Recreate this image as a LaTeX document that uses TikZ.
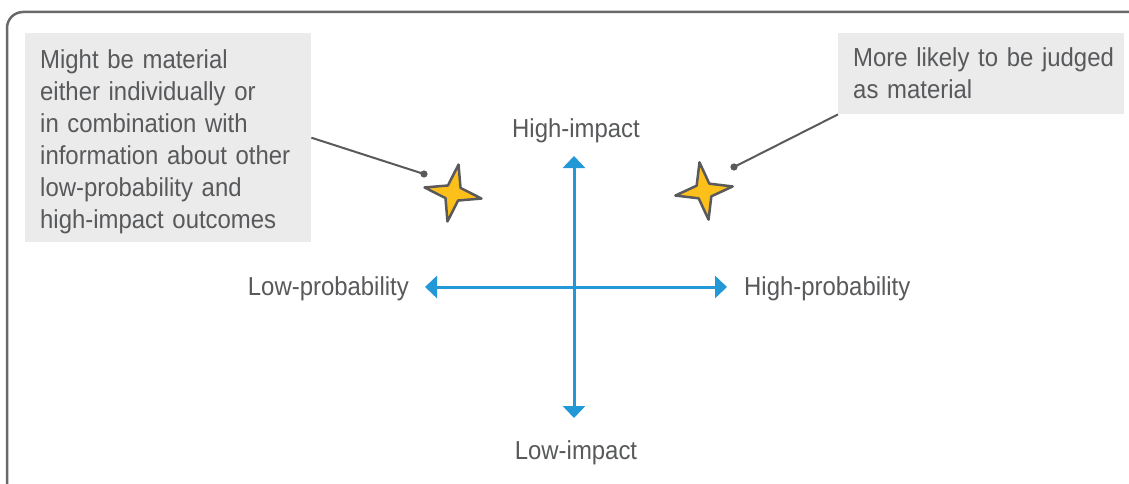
\documentclass[tikz,border=0pt]{standalone}
\usepackage{fontspec}
\setmainfont{Liberation Sans}[FakeStretch=0.92]
\usetikzlibrary{arrows.meta,shapes.geometric}
\definecolor{txt}{RGB}{88,89,91}
\definecolor{boxfill}{RGB}{235,235,236}
\definecolor{axiscol}{RGB}{34,152,214}
\definecolor{framecol}{RGB}{105,105,107}
\definecolor{gold}{RGB}{253,192,26}
\definecolor{leadcol}{RGB}{90,90,92}
\newcommand{\mynodefont}{\fontsize{26}{32}\selectfont\fontdimen2\font=4.6pt\relax}
\begin{document}
\begin{tikzpicture}[x=1pt,y=-1pt,
  every node/.style={font=\mynodefont, text=txt},
  callout/.style={fill=boxfill, align=left, anchor=north west, inner xsep=15pt, inner ysep=0pt, text width=256pt},
  label/.style={inner sep=0pt},
  axisline/.style={draw=axiscol, line width=3pt, {Triangle[width=22pt,length=12pt]}-{Triangle[width=22pt,length=12pt]}},
  leader/.style={draw=leadcol, line width=2pt},
  leaddot/.style={fill=leadcol},
  starshape/.style={star, star points=4, star point ratio=3.2, minimum size=58pt, inner sep=0pt, draw=leadcol, line width=2.5pt, fill=gold, line join=round}
]
\useasboundingbox (0,0) rectangle (1129,484);
\clip (0,0) rectangle (1129,484);
% frame
\draw[framecol, line width=2.5pt, rounded corners=16pt] (7,500) -- (7,12) -- (1145,12);
% callout boxes
\node[callout, minimum height=209pt] (lbox) at (25,33) {\rule{0pt}{27pt}Might be material\\either individually or\\in combination with\\information about other\\low-probability and\\high-impact outcomes};
\node[callout, minimum height=81pt] (rbox) at (838,33) {\mbox{More likely to be judged}\\as material};
% stars
\node[starshape, rotate=-11] (lstar) at (453,193) {};
\node[starshape, rotate=9] (rstar) at (704,191) {};
% leaders
\coordinate (ldot) at (424,174);
\coordinate (rdot) at (734,167);
\draw[leader] (lbox.east) -- (ldot);
\draw[leader] (rbox.south west) -- (rdot);
\fill[leaddot] (ldot) circle (3.6pt);
\fill[leaddot] (rdot) circle (3.6pt);
% axes
\coordinate (vtop) at (574,156);
\coordinate (vbot) at (574,418);
\coordinate (hleft) at (425,287);
\coordinate (hright) at (727,287);
\draw[axisline] (vbot) -- (vtop);
\draw[axisline] (hleft) -- (hright);
% axis labels
\node[label, anchor=base] (hi) at (576,138) {High-impact};
\node[label, anchor=base] (li) at (576,459) {Low-impact};
\node[label, anchor=base east] (lp) at (409,295) {Low-probability};
\node[label, anchor=base west] (hp) at (744,295) {High-probability};
\end{tikzpicture}
\end{document}
